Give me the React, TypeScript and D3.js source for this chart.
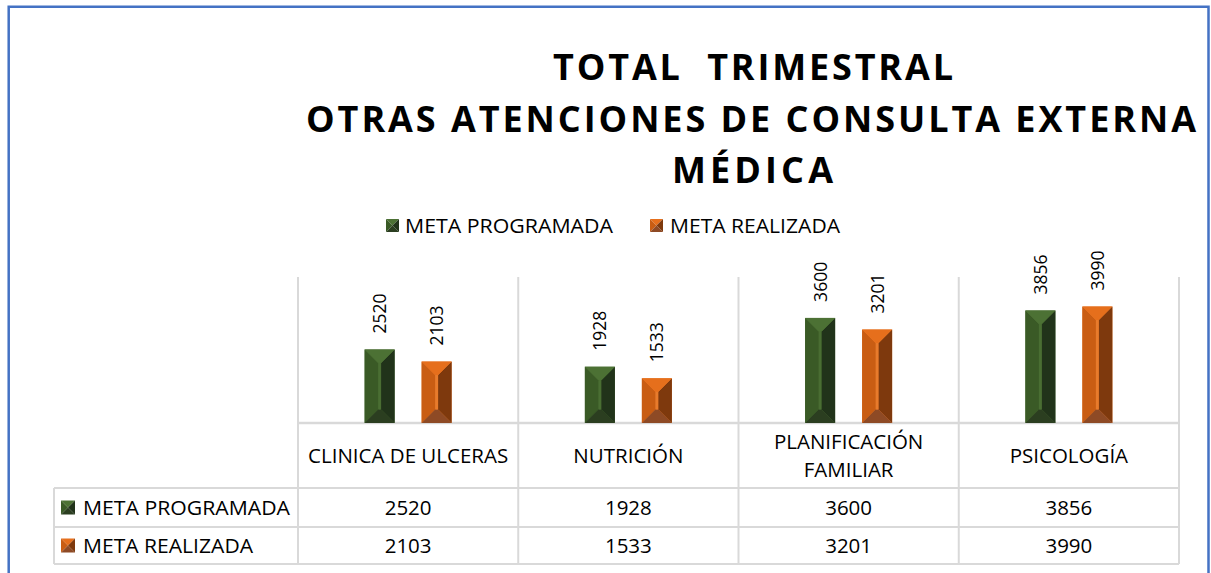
import React from "react";
import * as d3 from "d3";

const titleLines = ["TOTAL  TRIMESTRAL", "OTRAS ATENCIONES DE CONSULTA EXTERNA", "MÉDICA"];
const categories = ["CLINICA DE ULCERAS", "NUTRICIÓN", "PLANIFICACIÓN FAMILIAR", "PSICOLOGÍA"];
const categoryLines = [["CLINICA DE ULCERAS"], ["NUTRICIÓN"], ["PLANIFICACIÓN", "FAMILIAR"], ["PSICOLOGÍA"]];
const seriesNames = ["META PROGRAMADA", "META REALIZADA"];
const metaProgramada = [2520, 1928, 3600, 3856];
const metaRealizada = [2103, 1533, 3201, 3990];
const yDomain = [0, 5000];

const W = 1211;
const H = 573;
const FONT = "'Open Sans', 'Noto Sans', sans-serif";

const palettes = [
  { left: "#3a5a26", right: "#21331a", top: "#4c7134", bottom: "#2b3e20", mid: "#4a6e33" },
  { left: "#c95d13", right: "#7e390d", top: "#e66f1c", bottom: "#8e4a25", mid: "#e87b2c" },
];

function BevelBar({ x, w, top, bottom, pal }: any) {
  const h = bottom - top;
  const b = Math.min(w / 2 - 1.5, h / 2);
  const x1 = x + w;
  const cx = x + w / 2;
  const p = (pts: number[][]) => pts.map((q) => q.join(",")).join(" ");
  return (
    <g>
      <rect x={x} y={top} width={w} height={h} fill={pal.mid} />
      <polygon points={p([[x, top], [x + b, top + b], [x + b, bottom - b], [x, bottom]])} fill={pal.left} />
      <polygon points={p([[x1, top], [x1 - b, top + b], [x1 - b, bottom - b], [x1, bottom]])} fill={pal.right} />
      <polygon points={p([[x, top], [x1, top], [x1 - b, top + b], [x + b, top + b]])} fill={pal.top} />
      <polygon points={p([[x, bottom], [x1, bottom], [x1 - b, bottom - b], [x + b, bottom - b]])} fill={pal.bottom} />
      <line x1={cx} x2={cx} y1={top + b} y2={bottom - b} stroke={pal.mid} strokeWidth={2} opacity={0.8} />
    </g>
  );
}

function LegendIcon({ x, y, s, pal }: any) {
  const p = (pts: number[][]) => pts.map((q) => q.join(",")).join(" ");
  const cx = x + s / 2, cy = y + s / 2;
  return (
    <g>
      <polygon points={p([[x, y], [x + s, y], [cx, cy]])} fill={pal.top} />
      <polygon points={p([[x, y], [x, y + s], [cx, cy]])} fill={pal.left} />
      <polygon points={p([[x + s, y], [x + s, y + s], [cx, cy]])} fill={pal.right} />
      <polygon points={p([[x, y + s], [x + s, y + s], [cx, cy]])} fill={pal.bottom} />
    </g>
  );
}

export default function App() {
  const plotLeft = 298, plotRight = 1179, plotTop = 277, baseY = 423;
  const x = d3.scaleBand<string>().domain(categories).range([plotLeft, plotRight]).paddingInner(0).paddingOuter(0);
  const x1 = d3.scaleBand<string>().domain(seriesNames).range([0, x.bandwidth()]).paddingInner(0.4737).paddingOuter(1.169);
  const y = d3.scaleLinear().domain(yDomain).range([baseY, plotTop]);
  const series = [metaProgramada, metaRealizada];
  const grid = "#d9d9d9";
  const row1 = 488, row2 = 527, row3 = 564, tableLeft = 54;
  const boundaries = categories.map((c) => x(c) as number).concat([plotRight]);

  return (
    <svg width={W} height={H} style={{ position: "absolute", left: 0, top: 0, background: "#fff" }} fontFamily={FONT}>
      <rect x={0} y={0} width={W} height={H} fill="#fff" />
      {/* border */}
      <path d={`M8.7,${H + 5} L8.7,6.8 L1208.5,6.8 L1208.5,${H + 5}`} fill="none" stroke="#4472C4" strokeWidth={2.5} />

      {/* title */}
      <g fontWeight={700} fill="#000" fontSize={36} textAnchor="middle">
        <text x={753} y={80} textLength={400} lengthAdjust="spacing" style={{ whiteSpace: "pre" }}>{titleLines[0]}</text>
        <text x={751} y={132} textLength={890} lengthAdjust="spacing">{titleLines[1]}</text>
        <text x={752.5} y={183} textLength={161} lengthAdjust="spacing">{titleLines[2]}</text>
      </g>

      {/* legend */}
      <g fontSize={20} fill="#000">
        <LegendIcon x={386} y={219} s={13} pal={palettes[0]} />
        <text x={405} y={233} textLength={208} lengthAdjust="spacingAndGlyphs">{seriesNames[0]}</text>
        <LegendIcon x={650} y={219} s={13} pal={palettes[1]} />
        <text x={670} y={233} textLength={170} lengthAdjust="spacingAndGlyphs">{seriesNames[1]}</text>
      </g>

      {/* vertical grid / category boundaries in plot & header row */}
      {boundaries.map((bx, i) => (
        <line key={"v" + i} x1={bx} x2={bx} y1={plotTop} y2={row3} stroke={grid} strokeWidth={2} />
      ))}
      <line x1={tableLeft} x2={tableLeft} y1={row1} y2={row3} stroke={grid} strokeWidth={2} />
      <line x1={plotLeft} x2={plotRight} y1={baseY} y2={baseY} stroke={grid} strokeWidth={2.5} />
      {[row1, row2, row3].map((ry, i) => (
        <line key={"h" + i} x1={tableLeft} x2={plotRight} y1={ry} y2={ry} stroke={grid} strokeWidth={2} />
      ))}

      {/* bars */}
      {categories.map((c, ci) =>
        seriesNames.map((s, si) => {
          const bx = (x(c) as number) + (x1(s) as number);
          const w = x1.bandwidth();
          const v = series[si][ci];
          const top = y(v);
          const cx = bx + w / 2;
          return (
            <g key={c + s}>
              <BevelBar x={bx} w={w} top={top} bottom={baseY} pal={palettes[si]} />
              <text
                transform={`translate(${cx + 6.5},${top - 16}) rotate(-90)`}
                fontSize={17.5}
                fill="#000"
              >
                {v}
              </text>
            </g>
          );
        })
      )}

      {/* category labels */}
      {categories.map((c, ci) => {
        const cx = (x(c) as number) + x.bandwidth() / 2;
        const lines = categoryLines[ci];
        const startY = lines.length === 1 ? 463 : 449;
        return (
          <text key={c} x={cx} textAnchor="middle" fontSize={20.5} fill="#000">
            {lines.map((l, li) => (
              <tspan key={li} x={cx} y={startY + li * 28}>{l}</tspan>
            ))}
          </text>
        );
      })}

      {/* table rows */}
      {seriesNames.map((s, si) => {
        const cy = si === 0 ? (row1 + row2) / 2 : (row2 + row3) / 2;
        return (
          <g key={s}>
            <LegendIcon x={61} y={cy - 7} s={14} pal={palettes[si]} />
            <text x={83} y={cy + 7} fontSize={20} fill="#000" textLength={si === 0 ? 207 : 170} lengthAdjust="spacingAndGlyphs">{s}</text>
            {categories.map((c, ci) => (
              <text key={c} x={(x(c) as number) + x.bandwidth() / 2} y={cy + 7.5} textAnchor="middle" fontSize={20.5} fill="#000">
                {series[si][ci]}
              </text>
            ))}
          </g>
        );
      })}
    </svg>
  );
}
